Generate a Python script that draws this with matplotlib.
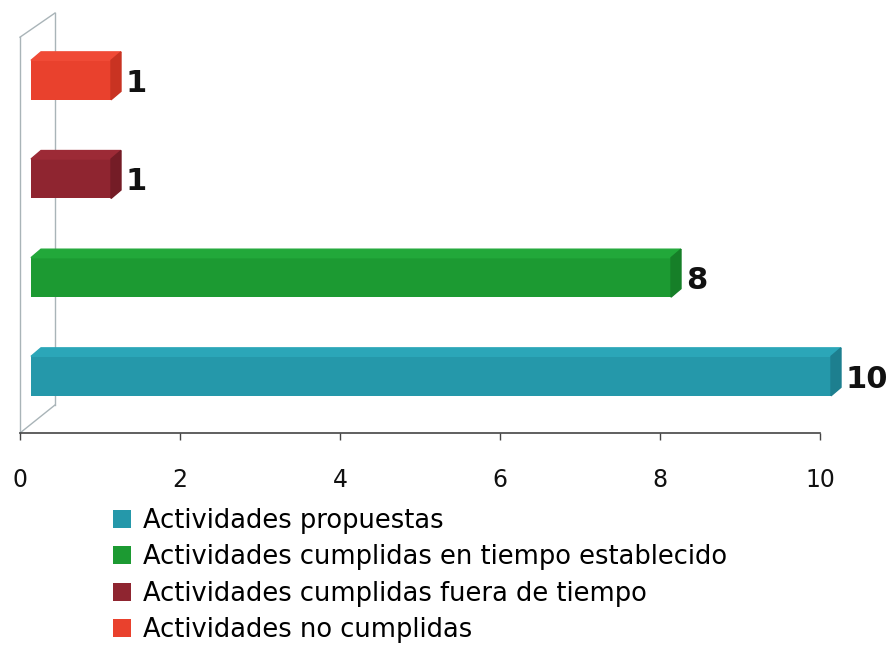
import matplotlib
matplotlib.use("Agg")
import matplotlib.pyplot as plt
from matplotlib.patches import Polygon, Patch

# datos
categorias = ["Actividades propuestas",
              "Actividades cumplidas en tiempo establecido",
              "Actividades cumplidas fuera de tiempo",
              "Actividades no cumplidas"]
valores = [10, 8, 1, 1]
colores = ["#2598aa", "#1c9a32", "#8f2530", "#e9412d"]
colores_top = ["#2ba6b8", "#22a83a", "#9c2a36", "#f04a36"]
colores_lado = ["#1d7f8f", "#167f28", "#741c26", "#c93322"]
ticks = [0, 2, 4, 6, 8, 10]

fig = plt.figure(figsize=(8.89, 6.46), dpi=100)
W, H = 889, 646
ax = fig.add_axes([20 / W, (646 - 433) / H, 800 / W, 420 / H])
ax.set_xlim(0, 10)
ax.set_ylim(-0.577, 3.68)

# profundidad (en unidades de datos)
x0 = 0.1375
dx, dy = 0.125, 0.086
alto = 0.40

# pared 3D del fondo
wall = dict(color="#a9b4b8", lw=1.0, zorder=0, clip_on=False)
ax.plot([0, 0], [-0.577, 3.435], **wall)
ax.plot([0.4375, 0.4375], [-0.293, 3.68], **wall)
ax.plot([0, 0.4375], [3.435, 3.68], **wall)
ax.plot([0, 0.4375], [-0.577, -0.293], **wall)

for i, v in enumerate(valores):
    y = i
    ax.barh(y, v, left=x0, height=alto, color=colores[i], zorder=3, clip_on=False)
    top = [(x0, y + alto / 2), (x0 + v, y + alto / 2),
           (x0 + v + dx, y + alto / 2 + dy), (x0 + dx, y + alto / 2 + dy)]
    lado = [(x0 + v, y - alto / 2), (x0 + v + dx, y - alto / 2 + dy),
            (x0 + v + dx, y + alto / 2 + dy), (x0 + v, y + alto / 2)]
    ax.add_patch(Polygon(top, closed=True, color=colores_top[i], zorder=3, clip_on=False))
    ax.add_patch(Polygon(lado, closed=True, color=colores_lado[i], zorder=3, clip_on=False))
    ax.text(x0 + v + dx + 0.06, y - 0.03, str(v), fontsize=22, fontweight="bold",
            color="#111111", ha="left", va="center", clip_on=False)

ax.set_yticks([])
for s in ["top", "right", "left"]:
    ax.spines[s].set_visible(False)
ax.spines["bottom"].set_color("#444444")
ax.spines["bottom"].set_linewidth(1.2)
ax.set_xticks(ticks)
ax.tick_params(axis="x", direction="out", length=5, width=1, color="#444444",
               labelsize=17, pad=20, labelcolor="#111111")
ax.patch.set_alpha(0)

handles = [Patch(facecolor=c, edgecolor="none") for c in colores]
fig.legend(handles, categorias, loc="upper left", bbox_to_anchor=(113 / W, 1 - 508 / H),
           frameon=False, fontsize=18.5, handlelength=0.7, handleheight=0.7,
           handletextpad=0.45, labelspacing=0.4, borderpad=0, borderaxespad=0)

fig.savefig("out.png", dpi=100)
